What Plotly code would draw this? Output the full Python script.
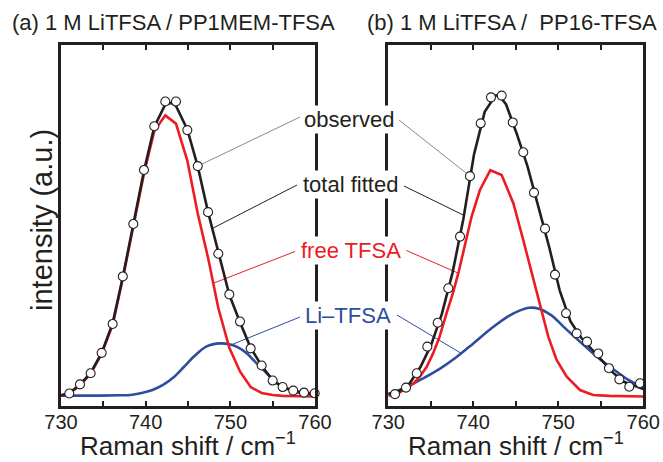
import plotly.graph_objects as go

# ---------------- data ----------------
# (a) 1 M LiTFSA / PP1MEM-TFSA
obs_x_a = [730.98, 732.24, 733.50, 734.80, 736.10, 737.30, 738.54, 739.80, 741.02, 742.32,
           743.58, 744.92, 746.15, 747.37, 748.58, 749.88, 751.14, 752.40, 753.70, 755.00,
           756.18, 757.43, 758.70, 759.96]
obs_y_a = [0.010, 0.041, 0.079, 0.148, 0.246, 0.407, 0.585, 0.768, 0.916, 1.000,
           1.000, 0.903, 0.781, 0.625, 0.484, 0.346, 0.254, 0.163, 0.105, 0.054,
           0.032, 0.020, 0.013, 0.011]
fit_x_a = [730.0, 730.98, 732.24, 733.50, 734.80, 736.10, 737.30, 738.54, 739.80, 741.02,
           742.32, 743.00, 743.58, 744.92, 746.15, 747.37, 748.58, 749.88, 751.14, 752.40,
           753.70, 755.00, 756.18, 757.43, 758.70, 760.0]
fit_y_a = [0.004, 0.012, 0.040, 0.080, 0.148, 0.248, 0.405, 0.585, 0.765, 0.915,
           0.990, 0.995, 0.985, 0.905, 0.780, 0.625, 0.485, 0.345, 0.252, 0.165,
           0.104, 0.055, 0.033, 0.020, 0.013, 0.010]
free_x_a = [730.0, 730.98, 732.24, 733.50, 734.80, 736.10, 737.30, 738.54, 739.80, 741.02,
            742.32, 743.58, 744.92, 746.15, 747.37, 748.58, 749.88, 751.14, 752.40, 753.70,
            755.00, 756.18, 757.43, 758.70, 760.0]
free_y_a = [0.003, 0.010, 0.038, 0.077, 0.145, 0.243, 0.400, 0.578, 0.755, 0.900,
            0.953, 0.925, 0.800, 0.620, 0.470, 0.300, 0.165, 0.085, 0.032, 0.012,
            0.005, 0.002, 0.001, 0.000, 0.000]
li_x_a = [730.0, 734.0, 737.0, 738.2, 739.5, 740.8, 742.1, 743.3, 744.5, 745.8, 747.2,
          748.8, 750.0, 750.8, 752.0, 752.7, 753.9, 754.7, 755.5, 757.0, 758.5, 760.0]
li_y_a = [0.003, 0.003, 0.004, 0.005, 0.012, 0.022, 0.040, 0.065, 0.100, 0.138, 0.170,
          0.180, 0.176, 0.168, 0.145, 0.124, 0.090, 0.067, 0.045, 0.022, 0.011, 0.006]

# (b) 1 M LiTFSA / PP16-TFSA
obs_x_b = [729.93, 730.79, 732.08, 733.34, 734.59, 735.81, 737.06, 738.44, 739.61, 740.87,
           742.08, 743.34, 744.64, 745.88, 747.14, 748.44, 749.61, 750.91, 752.16, 753.38,
           754.70, 755.96, 757.18, 758.35, 759.61]
obs_y_b = [0.007, 0.008, 0.030, 0.079, 0.169, 0.250, 0.367, 0.542, 0.747, 0.926,
           1.014, 1.020, 0.929, 0.828, 0.691, 0.569, 0.413, 0.282, 0.214, 0.186,
           0.146, 0.096, 0.058, 0.033, 0.045]
fit_x_b = [730.0, 731.26, 732.52, 733.78, 735.04, 736.30, 737.56, 738.82, 740.08, 741.34,
           742.60, 743.00, 743.86, 745.12, 746.38, 747.64, 748.90, 750.16, 751.42, 752.68,
           753.94, 755.20, 756.46, 757.72, 758.98, 760.0]
fit_y_b = [0.008, 0.018, 0.045, 0.100, 0.175, 0.280, 0.420, 0.600, 0.820, 0.965,
           1.020, 1.022, 0.990, 0.890, 0.780, 0.645, 0.510, 0.360, 0.255, 0.200,
           0.160, 0.120, 0.080, 0.050, 0.035, 0.025]
free_x_b = [730.0, 731.0, 732.15, 733.0, 733.7, 734.5, 735.27, 736.0, 736.85, 737.6,
            738.24, 739.0, 739.8, 740.78, 742.0, 743.34, 744.71, 745.88, 746.87, 747.85,
            748.82, 749.8, 750.99, 752.55, 754.1, 756.0, 758.0, 760.0]
free_y_b = [0.003, 0.008, 0.028, 0.045, 0.067, 0.100, 0.146, 0.200, 0.282, 0.350,
            0.418, 0.508, 0.610, 0.700, 0.767, 0.751, 0.655, 0.530, 0.418, 0.304,
            0.203, 0.124, 0.067, 0.022, 0.005, 0.002, 0.001, 0.000]
li_x_b = [730.0, 732.0, 734.0, 736.0, 738.0, 740.0, 742.0, 744.0, 745.5, 746.6,
          747.8, 749.2, 750.6, 752.5, 754.9, 756.3, 758.2, 760.0]
li_y_b = [0.008, 0.030, 0.060, 0.093, 0.133, 0.180, 0.228, 0.270, 0.292, 0.301,
          0.297, 0.275, 0.237, 0.187, 0.126, 0.096, 0.057, 0.031]

x_major_ticks = [730, 740, 750, 760]
x_minor_ticks = [735, 745, 755]
panel_titles = ["(a) 1 M LiTFSA / PP1MEM-TFSA", "(b) 1 M LiTFSA /\u00a0 PP16-TFSA"]
series_labels = ["observed", "total fitted", "free TFSA", "Li\u2013TFSA"]
x_title = "Raman shift / cm<sup>\u22121</sup>"
y_title = "intensity (a.u.)"

# ---------------- style ----------------
W, H = 663, 462
BLACK = "#231f20"
RED = "#ed1c24"
BLUE = "#2e4d9f"
GRAY = "#8a8a8a"
FONT = "Liberation Sans, Arial, Helvetica, sans-serif"

XA = [61 / W, 315 / W]
XB = [388.3 / W, 643.3 / W]
YD = [1 - 406 / H, 1 - 45 / H]
XR = [730, 760]
YR = [(396.5 - 406) / 295, (396.5 - 45) / 295]


def px(x, y):
    return x / W, 1 - y / H


def d2p(x, y, dom):
    return (dom[0] + (x - XR[0]) / (XR[1] - XR[0]) * (dom[1] - dom[0]),
            YD[0] + (y - YR[0]) / (YR[1] - YR[0]) * (YD[1] - YD[0]))


fig = go.Figure()

for (xs, ys, fx, fy, rx, ry, lx, ly, xa, ya) in [
        (obs_x_a, obs_y_a, fit_x_a, fit_y_a, free_x_a, free_y_a, li_x_a, li_y_a, "x", "y"),
        (obs_x_b, obs_y_b, fit_x_b, fit_y_b, free_x_b, free_y_b, li_x_b, li_y_b, "x2", "y2")]:
    fig.add_trace(go.Scatter(x=lx, y=ly, mode="lines", line=dict(color=BLUE, width=2.6, shape="spline"),
                             xaxis=xa, yaxis=ya, showlegend=False))
    fig.add_trace(go.Scatter(x=rx, y=ry, mode="lines", line=dict(color=RED, width=2.6),
                             xaxis=xa, yaxis=ya, showlegend=False))
    fig.add_trace(go.Scatter(x=fx, y=fy, mode="lines", line=dict(color=BLACK, width=2.6),
                             xaxis=xa, yaxis=ya, showlegend=False))
    fig.add_trace(go.Scatter(x=xs, y=ys, mode="markers",
                             marker=dict(size=9, color="white", line=dict(color=BLACK, width=1.1)),
                             xaxis=xa, yaxis=ya, showlegend=False, cliponaxis=False))

axis_common = dict(range=XR, tickmode="array", tickvals=x_major_ticks, ticks="inside",
                   ticklen=5, tickwidth=2, tickcolor=BLACK, showline=True, linewidth=2.5,
                   linecolor=BLACK, mirror="allticks", showgrid=False, zeroline=False,
                   automargin=False,
                   minor=dict(tickmode="array", tickvals=x_minor_ticks, ticks="inside",
                              ticklen=5, tickwidth=2, tickcolor=BLACK, showgrid=False),
                   tickfont=dict(family=FONT, size=20, color=BLACK), ticklabelstandoff=-4)
yaxis_common = dict(range=YR, showticklabels=False, ticks="", showline=True, linewidth=2.5,
                    linecolor=BLACK, mirror=True, showgrid=False, zeroline=False, domain=YD,
                    automargin=False)

fig.update_layout(
    width=W, height=H, margin=dict(l=0, r=0, t=0, b=0, autoexpand=False),
    paper_bgcolor="white", plot_bgcolor="rgba(0,0,0,0)",
    xaxis=dict(domain=XA, anchor="y", **axis_common),
    xaxis2=dict(domain=XB, anchor="y2", **axis_common),
    yaxis=dict(anchor="x", **yaxis_common),
    yaxis2=dict(anchor="x2", **yaxis_common),
)

ann = []
# panel titles
ann.append(dict(x=px(10, 0)[0], y=px(0, 22)[1], xref="paper", yref="paper", text=panel_titles[0],
                xanchor="left", yanchor="middle", showarrow=False,
                font=dict(family=FONT, size=22, color=BLACK)))
ann.append(dict(x=px(365, 0)[0], y=px(0, 22)[1], xref="paper", yref="paper", text=panel_titles[1],
                xanchor="left", yanchor="middle", showarrow=False,
                font=dict(family=FONT, size=22, color=BLACK)))
# axis titles
for dom in (XA, XB):
    ann.append(dict(x=(dom[0] + dom[1]) / 2, y=0.0, xref="paper", yref="paper",
                    text=x_title, xanchor="center", yanchor="bottom", showarrow=False,
                    borderpad=0, font=dict(family=FONT, size=26, color=BLACK)))
ann.append(dict(x=px(42, 0)[0], y=px(0, 220)[1], xref="paper", yref="paper", text=y_title,
                textangle=-90, xanchor="center", yanchor="middle", showarrow=False,
                font=dict(family=FONT, size=29, color=BLACK)))

# series labels with leader lines
label_colors = [BLACK, BLACK, RED, BLUE]
line_colors = [GRAY, BLACK, RED, BLUE]
label_pos = [(349, 119), (350, 185), (350.5, 250), (348, 315)]
left_start = [(300, 117), (297, 185), (295, 251.5), (300, 317)]
right_start = [(399, 120), (404, 186), (406.5, 250.5), (397, 315)]
left_end = [(746.15, 0.781), (747.9, 0.57), (748.0, 0.384), (750.1, 0.175)]
right_end = [(739.61, 0.747), (738.9, 0.614), (738.24, 0.418), (738.6, 0.146)]

shapes = []
for i, lab in enumerate(series_labels):
    for start, end, dom in ((left_start[i], left_end[i], XA), (right_start[i], right_end[i], XB)):
        x0, y0 = px(*start)
        x1, y1 = d2p(end[0], end[1], dom)
        shapes.append(dict(type="line", xref="paper", yref="paper", x0=x0, y0=y0, x1=x1, y1=y1,
                           line=dict(color=line_colors[i], width=1), layer="below"))
    lx, ly = px(*label_pos[i])
    ann.append(dict(x=lx, y=ly, xref="paper", yref="paper", text=lab, xanchor="center",
                    yanchor="middle", showarrow=False, bgcolor="white", borderpad=1,
                    font=dict(family=FONT, size=22, color=label_colors[i])))

fig.update_layout(annotations=ann, shapes=shapes)
fig.write_html("out.html")
